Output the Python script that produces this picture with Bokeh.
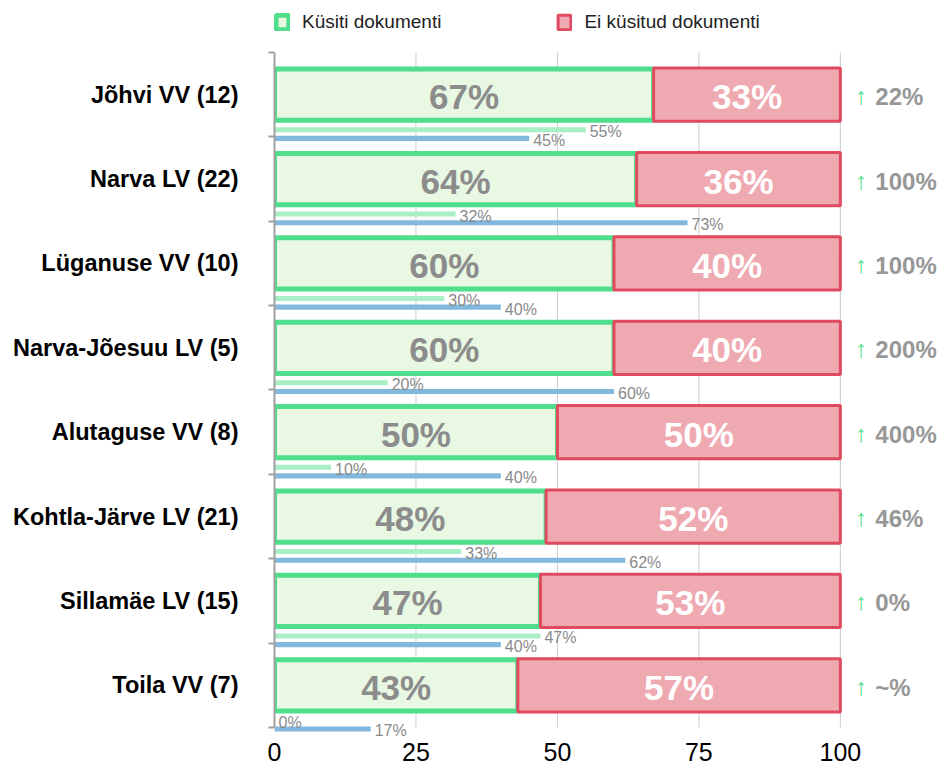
from bokeh.plotting import figure
from bokeh.models import ColumnDataSource, Range1d, FixedTicker, Legend, LegendItem
from bokeh.core.properties import value
from bokeh.transform import dodge
from bokeh.embed import file_html
from bokeh.resources import INLINE

categories = ["Jõhvi VV (12)", "Narva LV (22)", "Lüganuse VV (10)", "Narva-Jõesuu LV (5)",
              "Alutaguse VV (8)", "Kohtla-Järve LV (21)", "Sillamäe LV (15)", "Toila VV (7)"]
asked = [67, 64, 60, 60, 50, 48, 47, 43]
not_asked = [33, 36, 40, 40, 50, 52, 53, 57]
prev_asked = [55, 32, 30, 20, 10, 33, 47, 0]
docs_share = [45, 73, 40, 60, 40, 62, 40, 17]
change = ["22%", "100%", "100%", "200%", "400%", "46%", "0%", "~%"]
x_ticks = [0, 25, 50, 75, 100]

FONT = "Liberation Sans"
GREEN_LINE = "#4EDE8C"
GREEN_FILL = "#E8F8E3"
RED_LINE = "#E04A60"
RED_FILL = "#EFA9B1"
LIGHT_GREEN = "#A8EFC6"
BLUE = "#82B8DE"
AXIS_GRAY = "#A0A0A0"

n = len(categories)
yc = [n - i - 0.5 for i in range(n)]

src = ColumnDataSource(dict(
    y=yc,
    asked=asked,
    total=[a + b for a, b in zip(asked, not_asked)],
    asked_mid=[a / 2 for a in asked],
    red_mid=[a + b / 2 for a, b in zip(asked, not_asked)],
    asked_lbl=[f"{a}%" for a in asked],
    red_lbl=[f"{b}%" for b in not_asked],
    prev=prev_asked,
    prev_lbl=[f"{v}%" for v in prev_asked],
    docs=docs_share,
    docs_lbl=[f"{v}%" for v in docs_share],
    change=change,
    right=[100] * n,
    arrow=["\u2191"] * n,
))

p = figure(width=940, height=765, x_range=Range1d(0, 117.7), y_range=Range1d(-0.107, n + 0.616),
           output_backend="svg", toolbar_location=None,
           min_border_left=274, min_border_right=0, min_border_top=0, min_border_bottom=29)
p.outline_line_color = None
p.xgrid.grid_line_color = None
p.ygrid.grid_line_color = None

# vertical grid lines over the category rows only
p.segment(x0=x_ticks, y0=[0] * len(x_ticks), x1=x_ticks, y1=[n] * len(x_ticks),
          line_color="#CCCCCC", line_width=1)

g = p.hbar(y="y", left=0, right="asked", height=0.607, source=src,
           fill_color=GREEN_FILL, line_color=GREEN_LINE, line_width=5)
r = p.hbar(y="y", left="asked", right="total", height=0.631, source=src,
           fill_color=RED_FILL, line_color=RED_LINE, line_width=3)

p.hbar(y=dodge("y", -0.415, range=p.y_range), left=0, right="prev", height=0.06, source=src,
       fill_color=LIGHT_GREEN, line_color=None)
p.hbar(y=dodge("y", -0.518, range=p.y_range), left=0, right="docs", height=0.06, source=src,
       fill_color=BLUE, line_color=None)

p.text(x="asked_mid", y="y", text="asked_lbl", source=src, text_align="center",
       text_baseline="middle", text_font=value(FONT), text_font_style="bold",
       text_font_size="35px", text_color="#8C8C8C", y_offset=2)
p.text(x="red_mid", y="y", text="red_lbl", source=src, text_align="center",
       text_baseline="middle", text_font=value(FONT), text_font_style="bold",
       text_font_size="35px", text_color="white", y_offset=2)

p.text(x="prev", y=dodge("y", -0.415, range=p.y_range), text="prev_lbl", source=src,
       text_align="left", text_baseline="middle", x_offset=4, y_offset=2,
       text_font=value(FONT), text_font_size="16px", text_color="#8A8A8A")
p.text(x="docs", y=dodge("y", -0.518, range=p.y_range), text="docs_lbl", source=src,
       text_align="left", text_baseline="middle", x_offset=4, y_offset=2,
       text_font=value(FONT), text_font_size="16px", text_color="#8A8A8A")

p.text(x="right", y="y", text="arrow", source=src, text_align="center",
       text_baseline="middle", x_offset=21, y_offset=1,
       text_font=value(FONT), text_font_style="bold", text_font_size="24px",
       text_color=GREEN_LINE)
p.text(x="right", y="y", text="change", source=src, text_align="left",
       text_baseline="middle", x_offset=35, y_offset=2,
       text_font=value(FONT), text_font_style="bold", text_font_size="24px",
       text_color="#979797")

# y axis
p.yaxis.bounds = (0, n)
p.yaxis.ticker = FixedTicker(ticks=yc, minor_ticks=list(range(n + 1)))
p.yaxis.major_label_overrides = {y: c for y, c in zip(yc, categories)}
p.yaxis.major_tick_line_color = None
p.yaxis.major_tick_out = 0
p.yaxis.major_tick_in = 0
p.yaxis.minor_tick_line_color = AXIS_GRAY
p.yaxis.minor_tick_line_width = 2
p.yaxis.minor_tick_out = 6
p.yaxis.minor_tick_in = 0
p.yaxis.axis_line_color = AXIS_GRAY
p.yaxis.axis_line_width = 2
p.yaxis.major_label_text_font = FONT
p.yaxis.major_label_text_font_style = "bold"
p.yaxis.major_label_text_font_size = "23.5px"
p.yaxis.major_label_text_color = "black"
p.yaxis.major_label_standoff = 30

# x axis
p.xaxis.ticker = FixedTicker(ticks=x_ticks)
p.xaxis.axis_line_color = None
p.xaxis.major_tick_line_color = None
p.xaxis.minor_tick_line_color = None
p.xaxis.major_label_text_font = FONT
p.xaxis.major_label_text_font_size = "25px"
p.xaxis.major_label_text_color = "black"
p.xaxis.major_label_standoff = 0

legend = Legend(items=[LegendItem(label="Küsiti dokumenti", renderers=[g]),
                       LegendItem(label="Ei küsitud dokumenti", renderers=[r])],
                orientation="horizontal", location=(0, 703),
                glyph_width=16, glyph_height=18, label_standoff=12, spacing=115,
                padding=5, margin=0, border_line_color=None, background_fill_alpha=0,
                label_text_font=FONT, label_text_font_size="19px", label_text_color="#222222",
                label_height=20)
p.add_layout(legend, "center")

open("out.html", "w").write(file_html(p, INLINE))
